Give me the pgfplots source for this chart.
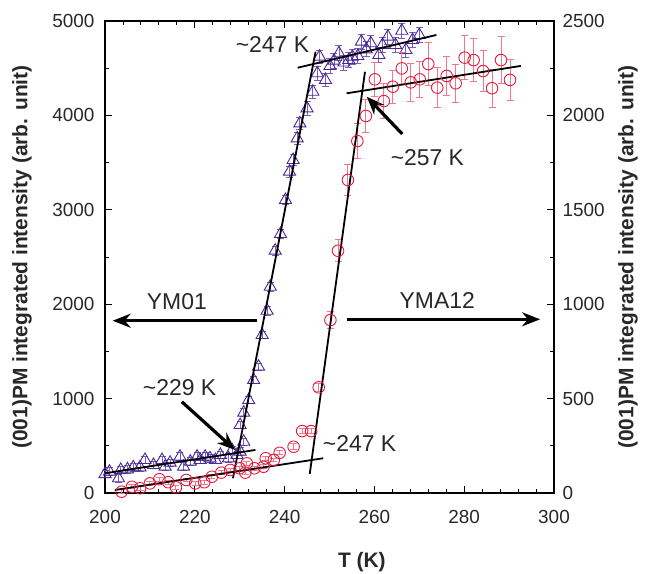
\documentclass[border=0pt]{standalone}
\usepackage{pgfplots}
\pgfplotsset{compat=1.18}
\usepackage{pgfplotstable}
\usepackage{fontspec}
\setmainfont{Liberation Sans}
\usetikzlibrary{arrows.meta}
\definecolor{ympurple}{RGB}{75,40,150}
\definecolor{ympurplelight}{RGB}{120,95,185}
\definecolor{ymred}{RGB}{230,25,60}
\definecolor{ymredlight}{RGB}{238,120,140}
\definecolor{txtgray}{RGB}{40,40,40}

\pgfplotstableread{
T I e
200 200 40
201 226 40
203 156 40
203.5 244 40
205 251 40
206.3 272 40
207.8 272 40
208.9 350 40
210.8 297 40
212.7 350 40
213.4 279 40
214.5 321 40
216.7 385 40
217.5 279 40
219 332 40
220.5 385 40
221.2 350 40
222.3 385 40
223.4 367 40
224.6 350 40
225.7 403 40
227.5 367 40
228.3 455 40
229.4 403 40
230.1 438 40
230.9 543 40
230.1 720 40
230.9 851 40
232.0 985 40
233.1 1197 40
234.2 1338 40
235.0 1674 40
236.1 1931 50
236.8 2185 50
237.9 2567 50
239.1 2744 50
240.2 3104 50
241.1 3404 60
241.9 3528 60
242.8 3757 60
243.4 3916 60
245.0 4075 70
246.3 4251 70
247.3 4446 70
247.8 4622 70
249.1 4375 70
250.1 4523 80
251.0 4580 80
252.1 4658 80
253.2 4560 80
254.3 4587 80
255.1 4622 80
256.3 4629 80
257.1 4781 80
258.2 4700 80
259.2 4764 80
261.0 4640 80
261.8 4746 80
263.0 4834 80
264.7 4746 80
266.1 4897 80
267.0 4693 80
268.5 4799 80
270.0 4852 80
}\ymzero

\pgfplotstableread{
T I e
203.7 7 10
206.0 33 10
207.8 25 10
210.0 51 10
212.1 73 10
214.1 57 10
215.8 30 10
218.1 69 10
220.1 51 10
222.1 57 10
223.8 86 10
225.9 108 10
227.9 122 10
230.0 131 10
231.25 108 10
231.6 157 10
233.3 131 10
235.3 139 10
235.8 184 10
237.6 175 10
238.9 213 10
242.0 245 15
243.9 328 15
245.9 328 15
247.6 560 20
250.2 916 45
251.9 1283 58
254.1 1658 80
256.2 1864 92
258.1 1997 85
260.1 2191 92
262.1 2076 92
264.1 2152 88
266.1 2249 83
268.1 2175 102
270.1 2191 97
272.0 2272 113
274.0 2147 106
276.1 2209 101
278.1 2170 101
280.1 2306 116
282.1 2293 115
284.2 2235 108
286.2 2144 101
288.2 2293 124
290.2 2188 110
}\ymatwelve

\begin{document}
\begin{tikzpicture}
\useasboundingbox (0,0) rectangle (648bp,574bp);
\begin{axis}[
  at={(105bp,81bp)}, anchor=south west,
  width=449bp, height=472bp, scale only axis,
  xmin=200, xmax=300, ymin=0, ymax=5000,
  xtick={200,220,...,300}, minor x tick num=4,
  ytick={0,1000,...,5000}, minor y tick num=1,
  tick align=inside, major tick length=7bp, minor tick length=4bp,
  xtick pos=both, ytick pos=both,
  xticklabel pos=lower, yticklabel pos=left,
  axis line style={line width=1.2bp},
  tick style={line width=0.9bp, black},
  ticklabel style={font=\fontsize{19}{22}\selectfont, text=txtgray},
  xticklabel style={yshift=-14bp},
  yticklabel style={xshift=-7bp},
  /pgf/number format/assume math mode=true,
  /pgf/number format/1000 sep={},
  scaled y ticks=false,
  xlabel={T (K)},
  ylabel={(001)PM integrated intensity (arb. unit)},
  every axis x label/.style={at={(axis description cs:0.572,-0.146)}, anchor=center,
     font=\fontsize{21}{24}\selectfont\bfseries, text=txtgray},
  every axis y label/.style={at={(axis description cs:-0.185,0.5)}, anchor=center, rotate=90,
     font=\fontsize{21}{24}\selectfont\bfseries, text=txtgray},
  clip=false,
]
\addplot[only marks, mark=triangle, mark size=7bp,
  mark options={ympurple, line width=0.9bp, fill=none},
  error bars/.cd, y dir=both, y explicit,
  error bar style={ympurplelight, line width=0.8bp},
  error mark options={rotate=90, mark size=3.5bp, ympurplelight, line width=0.8bp}]
  table[x=T, y=I, y error=e] {\ymzero};
\end{axis}

\begin{axis}[
  at={(105bp,81bp)}, anchor=south west,
  width=449bp, height=472bp, scale only axis,
  xmin=200, xmax=300, ymin=0, ymax=2500,
  axis x line=none, axis y line*=right,
  ytick={0,500,...,2500},
  ytick style={draw=none}, minor tick num=0,
  yticklabel pos=right,
  axis line style={line width=1.2bp},
  ticklabel style={font=\fontsize{19}{22}\selectfont, text=txtgray},
  yticklabel style={xshift=5bp},
  /pgf/number format/assume math mode=true,
  /pgf/number format/1000 sep={},
  scaled y ticks=false,
  ylabel={(001)PM integrated intensity (arb. unit)},
  every axis y label/.style={at={(axis description cs:1.165,0.5)}, anchor=center, rotate=90,
     font=\fontsize{21}{24}\selectfont\bfseries, text=txtgray},
  clip=false,
]
\addplot[only marks, mark=o, mark size=5.8bp,
  mark options={ymred, line width=0.9bp, fill=none},
  error bars/.cd, y dir=both, y explicit,
  error bar style={ymredlight, line width=0.9bp},
  error mark options={rotate=90, mark size=3.5bp, ymredlight, line width=0.9bp}]
  table[x=T, y=I, y error=e] {\ymatwelve};
% fit lines (YM01 in right-axis units = left/2)
\addplot[black, line width=1.8bp] coordinates {(200,104.5) (233.5,228)};
\addplot[black, line width=1.8bp] coordinates {(228.5,78) (246.9,2337.5)};
\addplot[black, line width=1.8bp] coordinates {(242.9,2252.5) (273.8,2426)};
% fit lines YMA12
\addplot[black, line width=1.8bp] coordinates {(202.2,16) (248.6,184)};
\addplot[black, line width=1.8bp] coordinates {(245.6,101) (257.9,2231)};
\addplot[black, line width=1.8bp] coordinates {(253.8,2117) (292.6,2262)};
% arrows
\draw[-{Stealth[length=18bp,width=14bp]}, line width=3.2bp] (axis cs:217.1,483.5) -- (axis cs:229.0,227.5);
\draw[-{Stealth[length=18bp,width=14bp]}, line width=3.2bp] (axis cs:233.9,912.5) -- (axis cs:201.7,912.5);
\draw[-{Stealth[length=18bp,width=14bp]}, line width=3.2bp] (axis cs:253.95,920) -- (axis cs:296.9,920);
\draw[-{Stealth[length=18bp,width=14bp]}, line width=3.2bp] (axis cs:266.2,1901.5) -- (axis cs:258.3,2099);
% annotations
\begin{scope}[every node/.style={font=\fontsize{23}{27}\selectfont, text=txtgray, inner sep=0pt}]
\node at (axis cs:216.6,556) {\textasciitilde229 K};
\node at (axis cs:216.0,1013) {YM01};
\node at (axis cs:274.0,1022) {YMA12};
\node at (axis cs:256.7,260) {\textasciitilde247 K};
\node at (axis cs:237.3,2373) {\textasciitilde247 K};
\node at (axis cs:271.8,1776) {\textasciitilde257 K};
\end{scope}
\end{axis}
\end{tikzpicture}
\end{document}
